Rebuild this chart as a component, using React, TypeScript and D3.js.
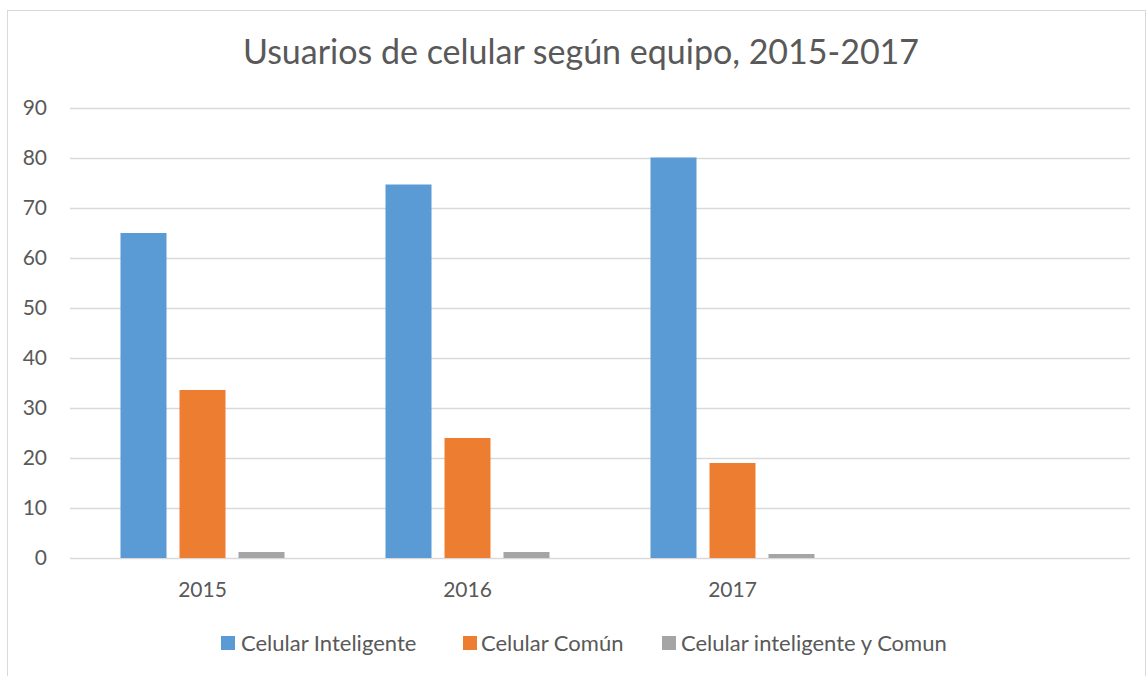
import React from "react";
import * as d3 from "d3";

const title = "Usuarios de celular según equipo, 2015-2017";
const categories = ["2015", "2016", "2017", ""];
const seriesNames = ["Celular Inteligente", "Celular Común", "Celular inteligente y Comun"];
const seriesColors = ["#5B9BD5", "#ED7D31", "#A5A5A5"];
const inteligente = [65.0, 74.7, 80.1];
const comun = [33.6, 24.0, 19.0];
const ambos = [1.2, 1.2, 0.8];
const yTicks = [0, 10, 20, 30, 40, 50, 60, 70, 80, 90];

const W = 1147;
const H = 676;
const FONT = "Lato, 'Open Sans', sans-serif";

export default function App() {
  const series = [inteligente, comun, ambos];
  const x = d3.scaleBand<string>().domain(categories.map((c, i) => c + "#" + i)).range([70, 1130]);
  const y = d3.scaleLinear().domain([0, 90]).range([558, 108]);
  const bw = 46;
  const gap = 13;
  const groupW = bw * 3 + gap * 2;

  const legendItems = [
    { x: 221, tx: 241 },
    { x: 463, tx: 481 },
    { x: 662, tx: 681 },
  ];

  return (
    <div style={{ position: "fixed", left: 0, top: 0 }}>
      <svg width={W} height={H} style={{ display: "block", background: "#fff" }}>
        <rect x={7.5} y={10.5} width={1138} height={680} fill="#fff" stroke="#D9D9D9" strokeWidth={1} />
        <text x={581} y={64} textAnchor="middle" fontFamily={FONT} fontSize={34} fill="#595959">
          {title}
        </text>
        {yTicks.map((t) => (
          <g key={t}>
            <line x1={70} x2={1130} y1={Math.round(y(t)) + 0.5} y2={Math.round(y(t)) + 0.5} stroke="#D9D9D9" strokeWidth={1.5} />
            <text x={47} y={y(t)} dy="0.35em" textAnchor="end" fontFamily={FONT} fontSize={21} fill="#595959">
              {t}
            </text>
          </g>
        ))}
        {categories.map((c, i) => {
          const key = c + "#" + i;
          const cx = (x(key) as number) + x.bandwidth() / 2;
          return (
            <g key={key}>
              {series.map((s, si) =>
                i < s.length ? (
                  <rect
                    key={si}
                    x={cx - groupW / 2 + si * (bw + gap)}
                    y={y(s[i])}
                    width={bw}
                    height={y(0) - y(s[i])}
                    fill={seriesColors[si]}
                  />
                ) : null
              )}
              {c && (
                <text x={cx} y={590} dy="0.35em" textAnchor="middle" fontFamily={FONT} fontSize={21} fill="#595959">
                  {c}
                </text>
              )}
            </g>
          );
        })}
        {seriesNames.map((n, i) => (
          <g key={n}>
            <rect x={legendItems[i].x} y={636} width={14} height={14} fill={seriesColors[i]} />
            <text x={legendItems[i].tx} y={643} dy="0.35em" fontFamily={FONT} fontSize={22} fill="#595959">
              {n}
            </text>
          </g>
        ))}
      </svg>
    </div>
  );
}
